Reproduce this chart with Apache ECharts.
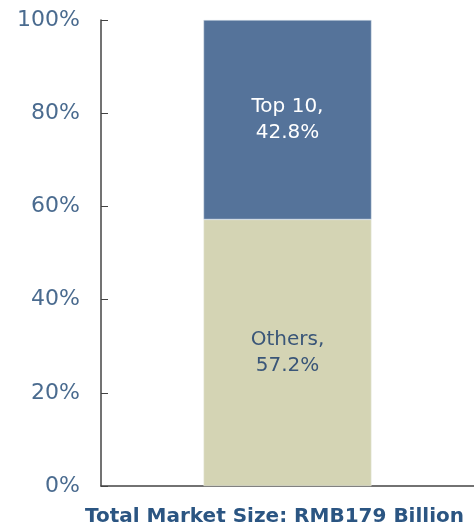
<!DOCTYPE html>
<html>
<head>
<meta charset="utf-8">
<script src="https://cdn.jsdelivr.net/npm/echarts@6/dist/echarts.min.js"></script>
<style>
  html, body { margin: 0; padding: 0; background: #fff; }
  #main { width: 474px; height: 531px; }
</style>
</head>
<body>
<div id="main"></div>
<script>
var categories = ['Total Market Size: RMB179 Billion'];
var othersShare = [57.2];
var top10Share = [42.8];
var yTicks = [0, 20, 40, 60, 80, 100];

var fontName = 'DejaVu Sans, Verdana, sans-serif';

var mychart = echarts.init(document.getElementById('main'));
var option = {
    animation: false,
    grid: {
        left: 101,
        right: 0,
        top: 20,
        bottom: 45
    },
    xAxis: {
        type: 'category',
        data: categories,
        axisLine: {
            lineStyle: { color: '#444', width: 1.5 }
        },
        axisTick: { show: false },
        axisLabel: {
            color: '#2b5582',
            fontSize: 20,
            fontWeight: 'bold',
            fontFamily: fontName,
            margin: 21,
            padding: [0, 26, 0, 0]
        }
    },
    yAxis: {
        type: 'value',
        min: yTicks[0],
        max: yTicks[yTicks.length - 1],
        interval: 20,
        axisLine: {
            show: true,
            lineStyle: { color: '#444', width: 1.5 }
        },
        axisTick: {
            show: true,
            inside: true,
            length: 7,
            lineStyle: { color: '#444' }
        },
        splitLine: { show: false },
        axisLabel: {
            formatter: '{value}%',
            color: '#4a6b8f',
            fontSize: 22,
            fontFamily: fontName,
            margin: 21
        }
    },
    series: [
        {
            name: 'Others',
            type: 'bar',
            stack: 'share',
            data: othersShare,
            barWidth: 168,
            itemStyle: {
                color: '#d4d4b4',
                borderColor: '#eef0ea',
                borderWidth: 0.5
            },
            label: {
                show: true,
                position: 'inside',
                formatter: function (p) { return 'Others,\n' + p.value + '%'; },
                color: '#3a5678',
                fontSize: 20,
                lineHeight: 26,
                fontFamily: fontName
            }
        },
        {
            name: 'Top 10',
            type: 'bar',
            stack: 'share',
            data: top10Share,
            barWidth: 168,
            itemStyle: {
                color: '#55739a',
                borderColor: '#dfe6ee',
                borderWidth: 0.5
            },
            label: {
                show: true,
                position: 'inside',
                formatter: function (p) { return 'Top 10,\n' + p.value + '%'; },
                color: '#ffffff',
                fontSize: 20,
                lineHeight: 26,
                fontFamily: fontName
            }
        }
    ]
};
mychart.setOption(option);
</script>
</body>
</html>
